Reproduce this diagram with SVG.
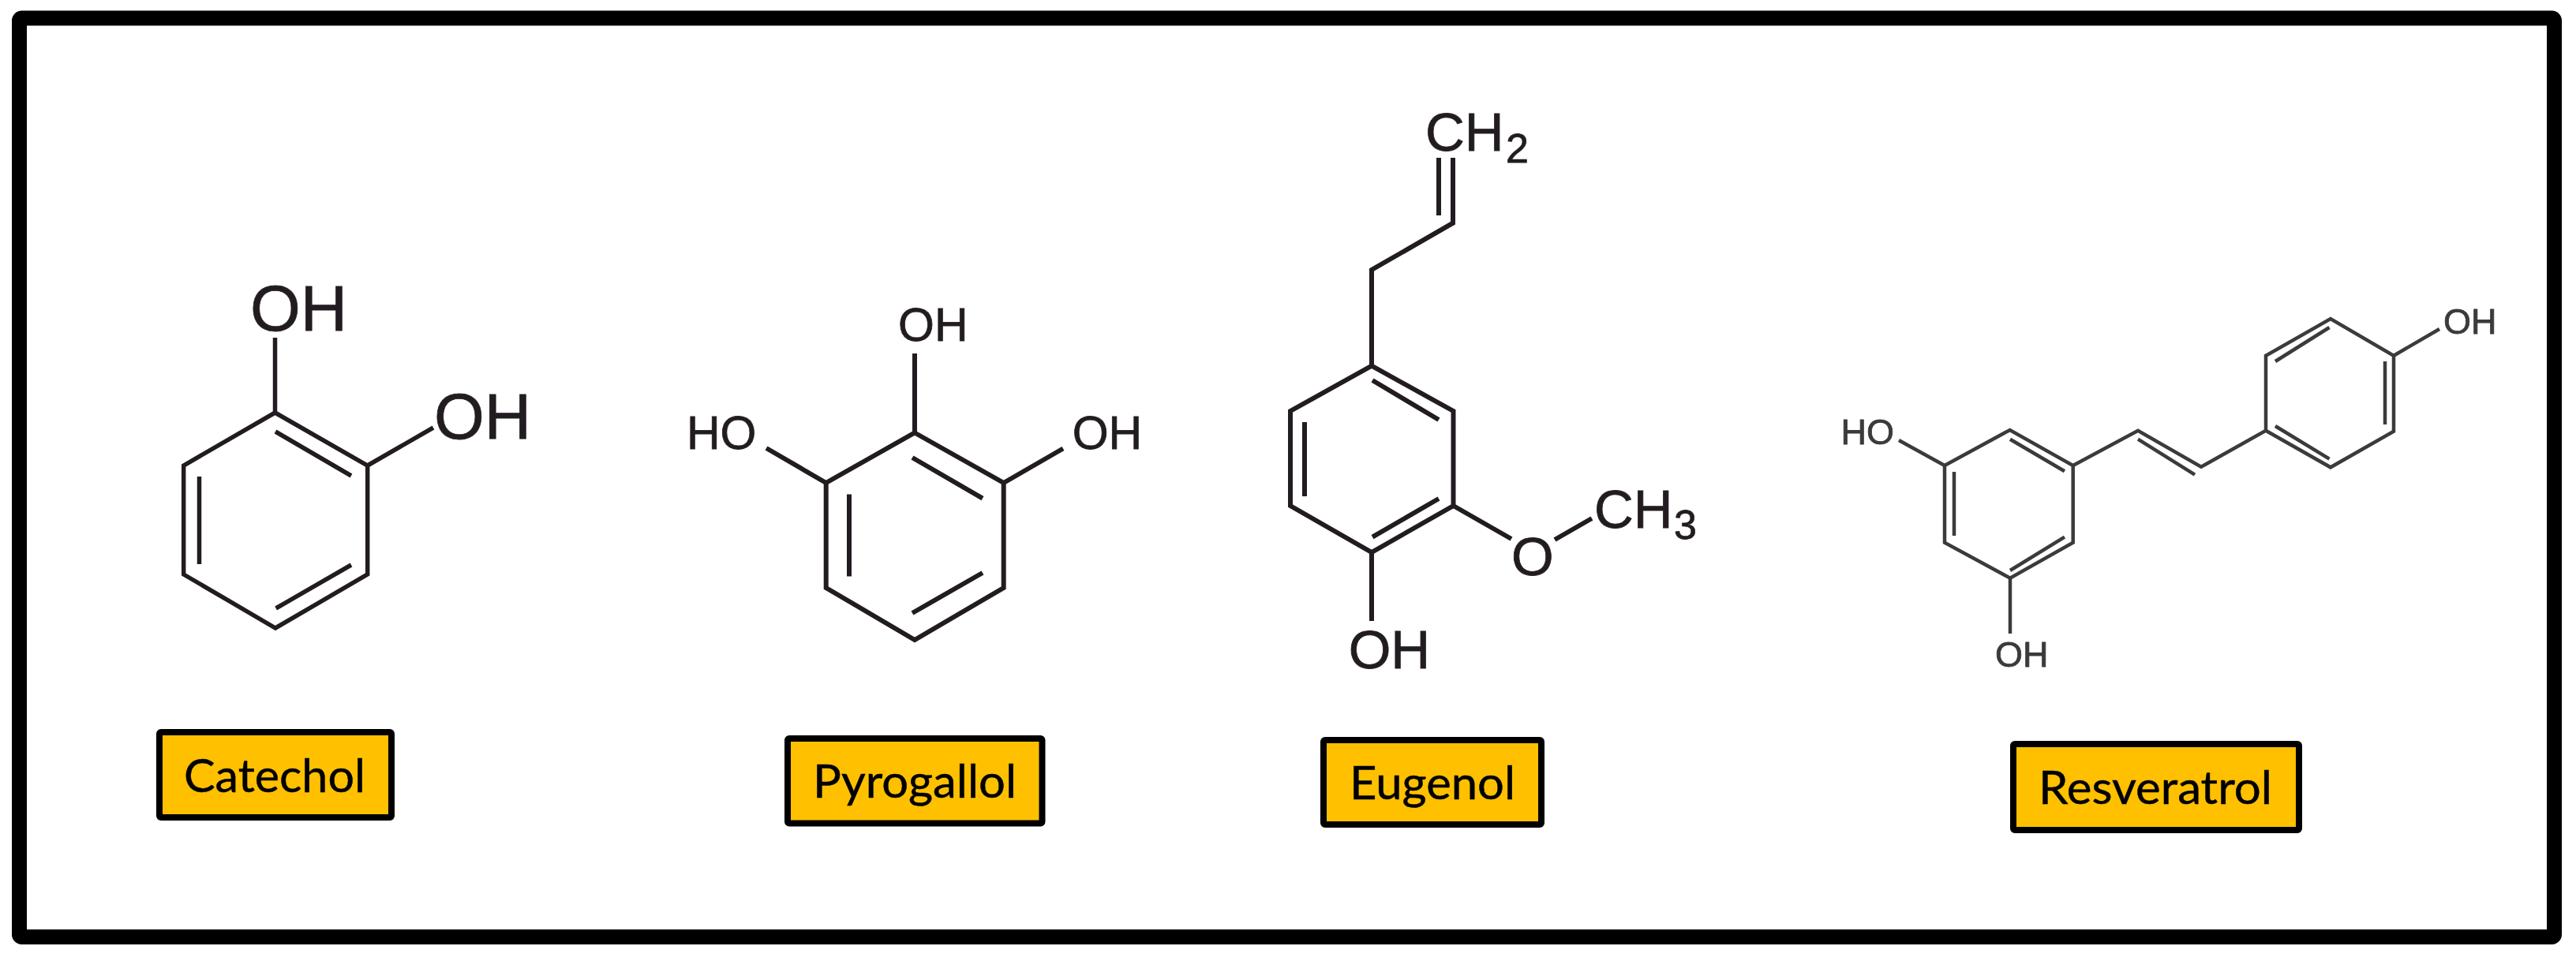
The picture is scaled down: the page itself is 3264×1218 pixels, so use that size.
<svg xmlns="http://www.w3.org/2000/svg" width="3264" height="1218" viewBox="0 0 3264 1218">
<defs>
<style>
.bg{fill:#fff}
.frame{fill:none;stroke:#000;stroke-width:19;stroke-linejoin:round}
.box{fill:#ffc000;stroke:#000;stroke-width:8;stroke-linejoin:round}
.lbl{font-family:"Lato","Carlito","Liberation Sans",sans-serif;font-size:58px;fill:#000;stroke:#000;stroke-width:.5}
.bond{fill:none;stroke:#231f20;stroke-linejoin:miter;stroke-linecap:butt}
.atom{font-family:"Liberation Sans",Arial,sans-serif;fill:#231f20;stroke:#231f20;stroke-width:.8}
.cat .bond{stroke-width:5.500}
.pyr .bond{stroke-width:6}
.eug .bond{stroke-width:6}
.res .bond{stroke-width:4.500;stroke:#3a3a3a}
.res .atom{fill:#3a3a3a;stroke:#3a3a3a}
</style>
<filter id="soft" x="-5%" y="-5%" width="110%" height="110%"><feGaussianBlur stdDeviation="0.7"/></filter>
</defs>
<rect class="bg" width="3264" height="1218"/>
<rect class="frame" x="24.5" y="23" width="3212" height="1164.5" rx="3"/>

<g id="catechol" class="cat">
<g filter="url(#soft)">
<path class="bond" d="M348.500 523L465.700 590V728L349 796L232.700 728V590Z"/>
<path class="bond" d="M348.500 428V523M465.700 590L549 542M349 547L445 603M252.500 604V715M349.600 771L445 716"/>
<g class="atom" font-size="82">
<text x="317" y="419">OH</text>
<text x="550" y="556">OH</text>
</g>
</g>
<rect class="box" x="202" y="928" width="294" height="108" rx="2"/>
<text class="lbl" x="233" y="1004" textLength="230" lengthAdjust="spacingAndGlyphs">Catechol</text>
</g>

<g id="pyrogallol" class="pyr">
<g filter="url(#soft)">
<path class="bond" d="M1159 548.500L1271.700 612V745L1159 811L1046.700 745V612Z"/>
<path class="bond" d="M1159 448V548.500M1046.700 612L971 568M1271.700 612L1347 568.500M1156 580L1245 631.700M1076 626.500V730.500M1156 777L1245 726"/>
<g class="atom" font-size="59">
<text x="1138" y="431.500">OH</text>
<text x="870" y="569">HO</text>
<text x="1358.700" y="569">OH</text>
</g>
</g>
<rect class="box" x="998" y="936" width="322.500" height="107.500" rx="2"/>
<text class="lbl" x="1030" y="1011" textLength="258" lengthAdjust="spacingAndGlyphs">Pyrogallol</text>
</g>

<g id="eugenol" class="eug">
<g filter="url(#soft)">
<path class="bond" d="M1738 463.600L1841.500 521V641L1738 700L1635 641V521Z"/>
<path class="bond" d="M1738 463.600V342L1841 282.700V200M1823 200V273M1739 482L1823 532M1653 535V629M1739 680.600L1823 632M1841.500 641L1915 683M1970 684L2017 657M1738 700V787"/>
<g class="atom" font-size="69">
<text x="1806" y="190.700">CH</text>
<text x="1908" y="206" font-size="52">2</text>
<text x="2020" y="669">CH</text>
<text x="2121" y="683" font-size="52">3</text>
<text x="1915" y="728.500">O</text>
<text x="1708.700" y="847">OH</text>
</g>
</g>
<rect class="box" x="1677" y="938" width="276" height="107" rx="2"/>
<text class="lbl" x="1710" y="1013" textLength="210" lengthAdjust="spacingAndGlyphs">Eugenol</text>
</g>

<g id="resveratrol" class="res">
<g filter="url(#soft)">
<path class="bond" d="M2464 590L2546.700 545L2626.700 590V687.700L2547 732.700L2464 687.700Z"/>
<path class="bond" d="M2626.700 590L2709 545.700L2789 591.700L2871 545.700V450.700L2953 404L3033 450.700V546.700L2953 592.300L2871 545.700"/>
<path class="bond" d="M2547 556.700L2616 597.300M2476 598V679M2547 723L2616 680.700M2709 556.700L2781 601.700M2883 458L2951.500 415M3022 458V538M2883 540L2951.500 581.700M2406 558L2464 590M3033 450.700L3091 417M2547 732.700V803"/>
<g class="atom" font-size="45">
<text x="2332.500" y="563">HO</text>
<text x="3096" y="423">OH</text>
<text x="2528" y="845">OH</text>
</g>
</g>
<rect class="box" x="2551" y="943" width="362" height="109" rx="2"/>
<text class="lbl" x="2583" y="1019" textLength="296" lengthAdjust="spacingAndGlyphs">Resveratrol</text>
</g>
</svg>
